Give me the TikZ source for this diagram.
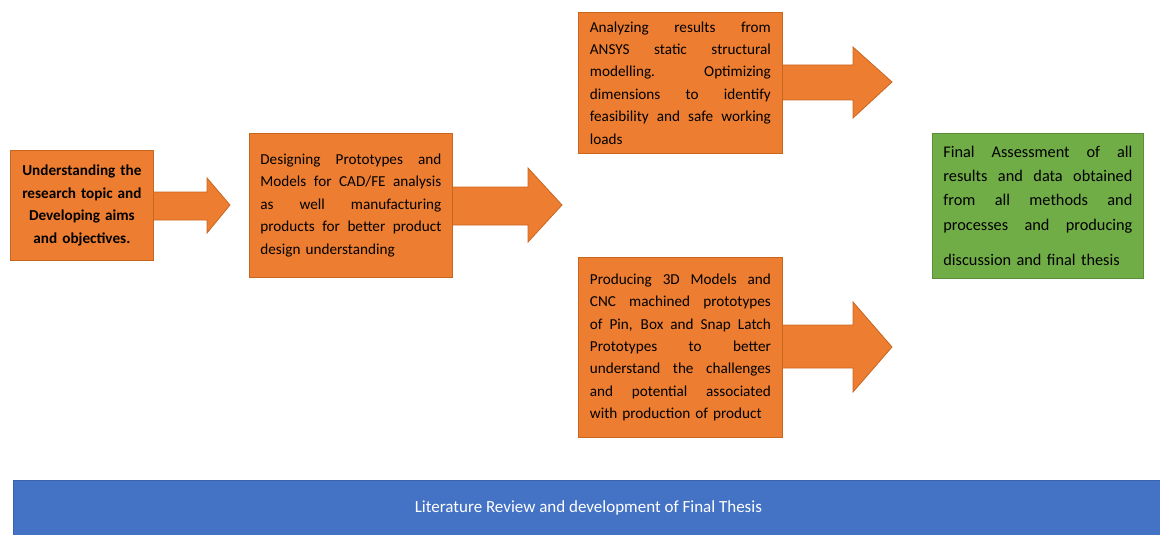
\documentclass[tikz,border=0pt]{standalone}
\usepackage{fontspec}
\setmainfont{Carlito}
\definecolor{orng}{HTML}{ED7D31}
\definecolor{orngd}{HTML}{C8661E}
\definecolor{grn}{HTML}{70AD47}
\definecolor{grnd}{HTML}{5B8F3A}
\definecolor{blu}{HTML}{4472C4}
\definecolor{blud}{HTML}{3A62AA}
\newcommand{\jl}[2][181pt]{\leavevmode\hbox to #1{\spaceskip=0.22em plus 1fil\relax\xspaceskip=0.22em plus 1fil\relax #2}}
\tikzset{
  obox/.style={draw=orngd, fill=orng, line width=0.8pt, anchor=north west, inner sep=0pt, align=left, font=\fontsize{15.2}{22.4}\selectfont},
  gbox/.style={draw=grnd, fill=grn, line width=0.8pt, anchor=north west, inner sep=0pt, align=left, font=\fontsize{16.3}{24.4}\selectfont},
  arr/.style={draw=orngd, fill=orng, line width=0.8pt, line join=miter},
}
\begin{document}
\begin{tikzpicture}[x=1pt,y=-1pt]
\useasboundingbox (0,0) rectangle (1160,535);
% arrows (behind boxes)
\draw[arr] (140,192) -- (207,192) -- (207,178) -- (230,205) -- (207,233) -- (207,220) -- (140,220) -- cycle;
\draw[arr] (440,187) -- (528,187) -- (528,168) -- (562,205) -- (528,242) -- (528,225) -- (440,225) -- cycle;
\draw[arr] (770,65) -- (853,65) -- (853,47) -- (892,82) -- (853,118) -- (853,100) -- (770,100) -- cycle;
\draw[arr] (770,325) -- (853,325) -- (853,302) -- (892,347) -- (853,392) -- (853,368) -- (770,368) -- cycle;
% boxes
\node[obox, minimum width=143, minimum height=110, text width=130, align=center, font=\fontsize{15.2}{22.4}\selectfont\bfseries] (b1) at (10,150)
 {Understanding the\\research topic and\\Developing aims\\and objectives.};
\node[obox, minimum width=203, minimum height=144, text width=181] (b2) at (249,133)
 {\jl{Designing Prototypes and}\\\jl{Models for CAD/FE analysis}\\\jl{as well manufacturing}\\\jl{products for better product}\\design understanding};
\node[obox, minimum width=204, minimum height=141, text width=181] (b3) at (578,12)
 {\jl{Analyzing results from}\\\jl{ANSYS static structural}\\\jl{modelling. Optimizing}\\\jl{dimensions to identify}\\\jl{feasibility and safe working}\\loads};
\node[obox, minimum width=204, minimum height=180, text width=181] (b4) at (578,257)
 {\jl{Producing 3D Models and}\\\jl{CNC machined prototypes}\\\jl{of Pin, Box and Snap Latch}\\\jl{Prototypes to better}\\\jl{understand the challenges}\\\jl{and potential associated}\\with production of product};
\node[gbox, minimum width=211, minimum height=145, text width=189] (b5) at (932,133)
 {\jl[189pt]{Final Assessment of all}\\\jl[189pt]{results and data obtained}\\\jl[189pt]{from all methods and}\\\jl[189pt]{processes and producing}\\[11pt]discussion and final thesis};
\node[draw=blud, fill=blu, line width=0.8pt, anchor=north west, inner sep=0pt, minimum width=1150, minimum height=56, text=white, font=\fontsize{17}{20}\selectfont] (lit) at (13,480)
 {\raisebox{-4pt}{Literature Review and development of Final Thesis}};
\end{tikzpicture}
\end{document}
